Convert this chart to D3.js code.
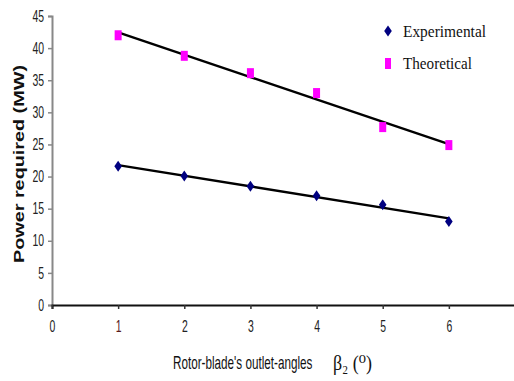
<!DOCTYPE html>
<html><head><meta charset="utf-8">
<script src="https://cdn.jsdelivr.net/npm/d3@7"></script>
<style>body{margin:0;background:#fff;} svg{display:block;}</style>
</head><body><svg id="c" width="514" height="381"></svg>
<script>
const angles = [1, 2, 3, 4, 5, 6];
const experimental = [21.6, 20.1, 18.5, 17.0, 15.6, 13.0];
const theoretical = [42.0, 38.8, 36.1, 33.0, 27.7, 24.9];
const xTicks = [0, 1, 2, 3, 4, 5, 6, 7];
const yTicks = [0, 5, 10, 15, 20, 25, 30, 35, 40, 45];
const seriesNames = ["Experimental", "Theoretical"];

const svg = d3.select("#c");
const x = d3.scaleLinear().domain([0, 7]).range([52, 515]);
const y = d3.scaleLinear().domain([0, 45]).range([305, 16]);
const tickFont = "Arial,'Liberation Sans',sans-serif";
const serif = "'Liberation Serif','DejaVu Serif','Times New Roman',serif";

// y axis
const ya = svg.append("g").attr("transform", "translate(52,0)")
  .call(d3.axisLeft(y).tickValues(yTicks).tickSize(4).tickPadding(4));
ya.select(".domain").attr("stroke", "#888").attr("stroke-width", 2);
ya.selectAll(".tick line").attr("stroke", "#888").attr("stroke-width", 1.5);
ya.selectAll("text").attr("font-family", tickFont).attr("font-size", 16).attr("fill", "#222")
  .attr("textLength", d => String(d).length * 5.8).attr("lengthAdjust", "spacingAndGlyphs");

// x axis
const xa = svg.append("g").attr("transform", "translate(0,305)")
  .call(d3.axisBottom(x).tickValues(xTicks).tickSize(4).tickPadding(12).tickFormat(d => d === 7 ? "" : d));
xa.select(".domain").attr("stroke", "#111").attr("stroke-width", 2);
xa.selectAll(".tick line").attr("stroke", "#333").attr("stroke-width", 1.5);
xa.selectAll("text").attr("font-family", tickFont).attr("font-size", 16).attr("fill", "#222")
  .attr("textLength", 5.8).attr("lengthAdjust", "spacingAndGlyphs");
xa.selectAll(".tick text").filter(d => d === 1).attr("fill", "#5a1a1a");

// trend lines (least squares)
function fit(xs, ys) {
  const mx = d3.mean(xs), my = d3.mean(ys);
  const b = d3.sum(xs, (v, i) => (v - mx) * (ys[i] - my)) / d3.sum(xs, v => (v - mx) ** 2);
  return v => my + b * (v - mx);
}
[experimental, theoretical].forEach(s => {
  const f = fit(angles, s);
  const x0 = d3.min(angles), x1 = d3.max(angles);
  svg.append("line").attr("x1", x(x0)).attr("y1", y(f(x0)))
    .attr("x2", x(x1)).attr("y2", y(f(x1)))
    .attr("stroke", "#000").attr("stroke-width", 2.4);
});

// markers
const diamond = (cx, cy) => `M${cx},${cy - 5.5}L${cx + 3.8},${cy}L${cx},${cy + 5.5}L${cx - 3.8},${cy}Z`;
svg.append("g").selectAll("path").data(angles).join("path")
  .attr("d", (d, i) => diamond(x(d), y(experimental[i])))
  .attr("fill", "#000080");
svg.append("g").selectAll("rect").data(angles).join("rect")
  .attr("x", d => x(d) - 3.5).attr("y", (d, i) => y(theoretical[i]) - 5)
  .attr("width", 7).attr("height", 10).attr("fill", "#ff00ff");

// legend
const lg = svg.append("g");
lg.append("path").attr("d", diamond(388, 31)).attr("fill", "#000080");
lg.append("rect").attr("x", 385).attr("y", 58).attr("width", 6).attr("height", 11).attr("fill", "#ff00ff");
lg.selectAll("text").data(seriesNames).join("text")
  .attr("x", 403).attr("y", (d, i) => 37 + i * 32)
  .attr("font-family", serif)
  .attr("font-size", 17).attr("fill", "#111")
  .attr("textLength", (d, i) => i === 0 ? 83 : 69).attr("lengthAdjust", "spacingAndGlyphs")
  .text(d => d);

// y axis title
svg.append("text").attr("transform", "translate(24,164) rotate(-90)")
  .attr("text-anchor", "middle")
  .attr("font-family", "Arial,'Liberation Sans',sans-serif").attr("font-weight", "bold")
  .attr("font-size", 14).attr("fill", "#111")
  .attr("textLength", 198).attr("lengthAdjust", "spacingAndGlyphs")
  .text("Power required  (MW)");

// x axis title
svg.append("text").attr("transform", "translate(173,369) scale(1,1.6)")
  .attr("font-family", tickFont).attr("font-size", 11.7).attr("fill", "#111")
  .text("Rotor-blade's outlet-angles");
svg.append("text").attr("x", 333).attr("y", 370)
  .attr("font-family", serif).attr("font-size", 20).attr("fill", "#111")
  .attr("textLength", 39).attr("lengthAdjust", "spacingAndGlyphs")
  .text("β\u2082 (\u2070)");
</script></body></html>
